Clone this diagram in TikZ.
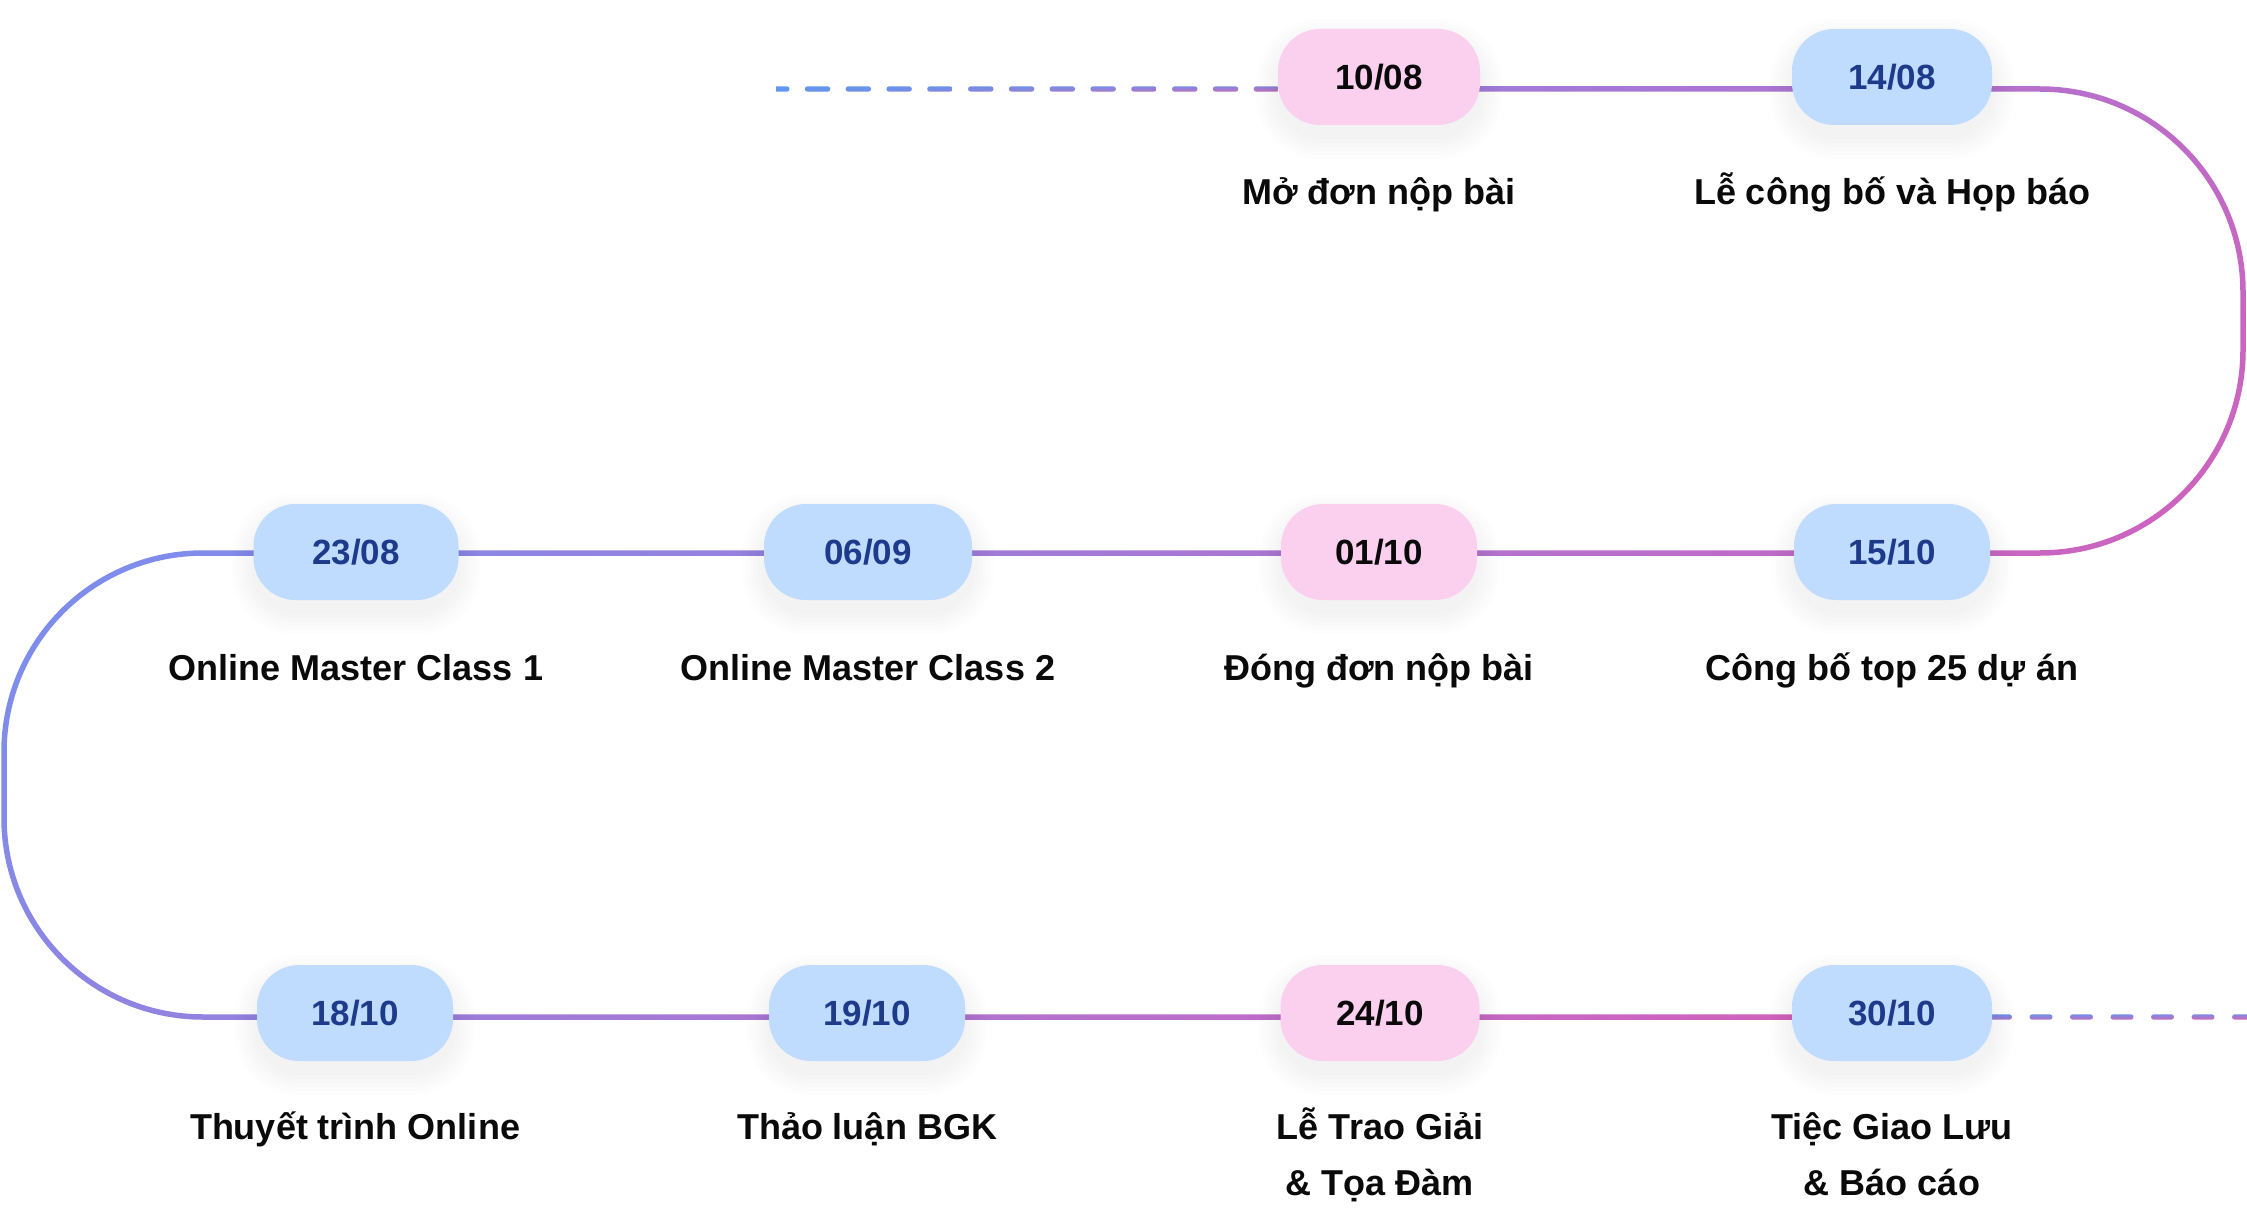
\documentclass[tikz,border=0pt]{standalone}
\usepackage{fontspec}
\setmainfont{Liberation Sans}
\usetikzlibrary{calc}
\definecolor{gA}{HTML}{649BFB}
\definecolor{gB}{HTML}{EA54AE}
\definecolor{dblue}{HTML}{5F97F1}
\definecolor{dpink}{HTML}{E060B0}
\definecolor{pillpink}{HTML}{FBD0EE}
\definecolor{pillblue}{HTML}{BFDBFE}
\definecolor{datenavy}{HTML}{1E3A8A}
\definecolor{ink}{HTML}{0A0A0A}
\pgfdeclarelayer{track}
\pgfdeclarelayer{shad}
\pgfsetlayers{track,shad,main}
\newcommand\datefont{\fontsize{35}{40}\selectfont\bfseries}
\newcommand\lblfont{\fontsize{36}{56}\selectfont\bfseries}
\tikzset{
  pill/.style={rectangle, rounded corners=42pt, minimum height=96pt, inner sep=0pt,
    text height=25pt, text depth=0pt, font=\datefont},
  pinkpill/.style={pill, fill=pillpink, text=ink},
  bluepill/.style={pill, fill=pillblue, text=datenavy},
  lbl/.style={anchor=base, font=\lblfont, text=ink, align=center, inner sep=0pt}
}
\begin{document}
\begin{tikzpicture}[x=1pt,y=1pt]
\useasboundingbox (0,0) rectangle (2247,-1209);
% pills
\node[pinkpill, minimum width=202pt] (d1008) at (1379,-77) {10/08};
\node[bluepill, minimum width=200pt] (d1408) at (1892,-77) {14/08};
\node[bluepill, minimum width=205pt] (d2308) at (356,-552) {23/08};
\node[bluepill, minimum width=208pt] (d0609) at (868,-552) {06/09};
\node[pinkpill, minimum width=196pt] (d0110) at (1379,-552) {01/10};
\node[bluepill, minimum width=196pt] (d1510) at (1892,-552) {15/10};
\node[bluepill, minimum width=196pt] (d1810) at (355,-1013) {18/10};
\node[bluepill, minimum width=196pt] (d1910) at (867,-1013) {19/10};
\node[pinkpill, minimum width=199pt] (d2410) at (1380,-1013) {24/10};
\node[bluepill, minimum width=200pt] (d3010) at (1892,-1013) {30/10};
% labels (base anchor = baseline of the last line)
\node[lbl] (l1008) at (1379,-205) {Mở đơn nộp bài};
\node[lbl] (l1408) at (1892,-205) {Lễ công bố và Họp báo};
\node[lbl] (l2308) at (356,-680) {Online Master Class 1};
\node[lbl] (l0609) at (868,-680) {Online Master Class 2};
\node[lbl] (l0110) at (1379,-680) {Đóng đơn nộp bài};
\node[lbl] (l1510) at (1892,-680) {Công bố top 25 dự án};
\node[lbl] (l1810) at (355,-1139) {Thuyết trình Online};
\node[lbl] (l1910) at (867,-1139) {Thảo luận BGK};
\node[lbl] (l2410) at (1380,-1195) {Lễ Trao Giải\\\& Tọa Đàm};
\node[lbl] (l3010) at (1892,-1195) {Tiệc Giao Lưu\\\& Báo cáo};
\begin{pgfonlayer}{track}
\fill[white] (0,0) rectangle (2247,-1209);
% gradient track from 10/08 to 30/10
\begin{scope}
\clip (d1008.center |- 0,-86.25) -- (2040,-86.25) arc[start angle=90,end angle=0,radius=205.75]
  -- (2245.75,-350) arc[start angle=0,end angle=-90,radius=205.75]
  -- (203,-555.75) arc[start angle=90,end angle=180,radius=196.25]
  -- (6.75,-818) arc[start angle=180,end angle=270,radius=196.25]
  -- (d3010.center |- 0,-1014.25) -- (d3010.center |- 0,-1019.75)
  -- (203,-1019.75) arc[start angle=270,end angle=180,radius=201.75]
  -- (1.25,-752) arc[start angle=180,end angle=90,radius=201.75]
  -- (2040,-550.25) arc[start angle=-90,end angle=0,radius=200.25]
  -- (2240.25,-292) arc[start angle=0,end angle=90,radius=200.25]
  -- (d1008.center |- 0,-91.75) -- cycle;
\begin{scope}[transform canvas={rotate=-45}]
\shade[left color=gA,right color=gB] (0,-3000) rectangle (2443.8,3000);
\end{scope}
\end{scope}
% dashed lead-in
\begin{scope}
\clip (776,-70) rectangle (d1008.west |- 0,-110);
\foreach \k in {0,...,12}{
  \pgfmathsetmacro\xx{764+40.8*\k}
  \pgfmathtruncatemacro\pt{100-30*\k/12}
  \pgfmathtruncatemacro\pb{100-85*\k/12}
  \shade[top color=dblue!\pt!dpink, bottom color=dblue!\pb!dpink, rounded corners=2.7pt]
    (\xx,-86.3) rectangle ++(25.5,-5.4);
}
\end{scope}
% dashed lead-out
\begin{scope}
\clip (d3010.east |- 0,-1000) rectangle (2247,-1035);
\foreach \k in {0,...,6}{
  \pgfmathsetmacro\xx{1989+40.5*\k}
  \pgfmathtruncatemacro\pt{90-15*\k/6}
  \pgfmathtruncatemacro\pb{35-30*\k/6}
  \shade[top color=dblue!\pt!dpink, bottom color=dblue!\pb!dpink, rounded corners=2.7pt]
    (\xx,-1014.3) rectangle ++(23,-5.4);
}
\end{scope}
\end{pgfonlayer}
% soft shadows
\begin{pgfonlayer}{shad}
\foreach \n in {d1008,d1408,d2308,d0609,d0110,d1510,d1810,d1910,d2410,d3010}{
  \foreach \e in {2,6,10,14,18,22}{
    \pgfmathsetmacro\rc{42+\e}
    \fill[black, opacity=0.007, rounded corners=\rc pt]
      ($(\n.south west)+(-\e,-\e-12)$) rectangle ($(\n.north east)+(\e,\e-12)$);
  }
}
\end{pgfonlayer}
\end{tikzpicture}
\end{document}
